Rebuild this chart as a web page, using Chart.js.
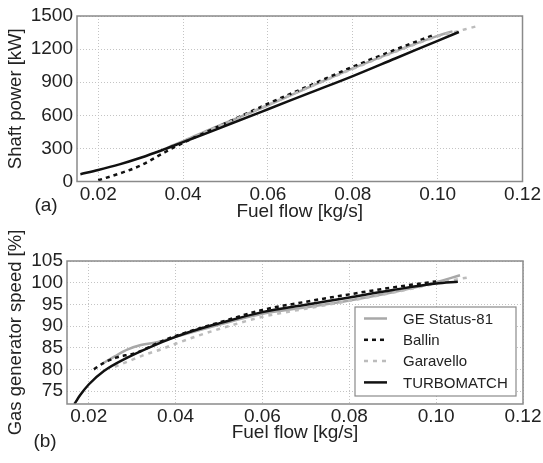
<!DOCTYPE html>
<html>
<head>
<meta charset="utf-8">
<script src="https://cdn.jsdelivr.net/npm/chart.js@4.4.1/dist/chart.umd.min.js"></script>
<style>
  body { margin: 0; background: #fff; }
  #wrap { position: relative; width: 543px; height: 463px; }
  canvas { position: absolute; left: 0; }
</style>
</head>
<body>
<div id="wrap">
  <canvas id="powerChart" width="543" height="230" style="top:0"></canvas>
  <canvas id="speedChart" width="543" height="253" style="top:210px"></canvas>
</div>
<script>
//--- Data ---//
const seriesNames = ['GE Status-81', 'Ballin', 'Garavello', 'TURBOMATCH'];
const xTicks = [0.02, 0.04, 0.06, 0.08, 0.10, 0.12];
const powerTicks = [0, 300, 600, 900, 1200, 1500];
const speedTicks = [75, 80, 85, 90, 95, 100, 105];

// (a) shaft power [kW] vs fuel flow [kg/s]
const powerGeX = [0.036, 0.04, 0.045, 0.05, 0.055, 0.06, 0.07, 0.08, 0.09, 0.10, 0.1035];
const powerGeY = [300, 365, 450, 530, 610, 690, 860, 1025, 1180, 1320, 1361];
const powerBallinX = [0.02, 0.025, 0.03, 0.035, 0.0375, 0.04, 0.05, 0.06, 0.07, 0.08, 0.09, 0.0995];
const powerBallinY = [11, 72, 145, 250, 302, 350, 528, 705, 872, 1040, 1195, 1335];
const powerGaravelloX = [0.037, 0.04, 0.05, 0.06, 0.07, 0.08, 0.09, 0.10, 0.105, 0.1092];
const powerGaravelloY = [320, 360, 525, 695, 860, 1020, 1175, 1315, 1365, 1407];
const powerTurboX = [0.0158, 0.02, 0.025, 0.03, 0.035, 0.04, 0.045, 0.05, 0.06, 0.07, 0.08, 0.09, 0.10, 0.105];
const powerTurboY = [66, 104, 155, 215, 283, 357, 430, 505, 655, 805, 955, 1115, 1275, 1355];

// (b) gas generator speed [%] vs fuel flow [kg/s]
const speedGeX = [0.0231, 0.026, 0.029, 0.032, 0.036, 0.04, 0.05, 0.06, 0.07, 0.08, 0.09, 0.10, 0.1055];
const speedGeY = [81.3, 83.0, 84.6, 85.6, 86.3, 87.5, 90.3, 92.8, 94.3, 95.9, 97.8, 100.1, 101.7];
const speedBallinX = [0.0212, 0.0235, 0.0263, 0.0309, 0.0366, 0.04, 0.05, 0.06, 0.07, 0.08, 0.09, 0.10];
const speedBallinY = [80, 81.5, 82.7, 83.8, 86.4, 87.7, 90.8, 93.7, 95.6, 97.3, 98.9, 100.3];
const speedGaravelloX = [0.026, 0.029, 0.033, 0.0366, 0.04, 0.045, 0.05, 0.06, 0.07, 0.08, 0.09, 0.10, 0.105, 0.108];
const speedGaravelloY = [80.6, 81.8, 83.4, 84.6, 85.9, 87.7, 89.3, 92.1, 94.0, 95.8, 97.7, 99.8, 100.8, 101.3];
const speedTurboX = [0.0167, 0.018, 0.02, 0.0235, 0.0289, 0.0343, 0.04, 0.0454, 0.05, 0.06, 0.07, 0.08, 0.09, 0.10, 0.105];
const speedTurboY = [72, 74, 76.5, 79.6, 82.7, 85.2, 87.5, 89.3, 90.6, 93.2, 94.9, 96.6, 98.3, 99.8, 100.2];
//------------//

const FONT = '"Liberation Sans", Arial, sans-serif';
const TEXT = '#222';
const styles = [
    { color: '#a8a8a8', dash: [], order: 3 },
    { color: '#111111', dash: [4, 4], order: 2 },
    { color: '#bcbcbc', dash: [4, 5], order: 1 },
    { color: '#111111', dash: [], order: 0 }
];

function toPoints(xs, ys) {
    return xs.map((x, i) => ({ x: x, y: ys[i] }));
}

function buildDatasets(pairs) {
    return pairs.map((p, i) => ({
        label: seriesNames[i],
        data: toPoints(p[0], p[1]),
        showLine: true,
        cubicInterpolationMode: 'monotone',
        borderColor: styles[i].color,
        borderDash: styles[i].dash,
        borderWidth: 2.5,
        pointRadius: 0,
        fill: false,
        order: styles[i].order
    }));
}

// frame, panel letter and in-plot legend
const framePlugin = {
    id: 'frame',
    afterDraw(chart, args, opts) {
        const ctx = chart.ctx;
        const a = chart.chartArea;
        ctx.save();
        ctx.setLineDash([]);
        ctx.strokeStyle = '#8a8a8a';
        ctx.lineWidth = 1.5;
        ctx.strokeRect(a.left, a.top, a.right - a.left, a.bottom - a.top);

        if (opts.legend) {
            const w = 161, h = 89;
            const bx = a.right - 7 - w, by = a.bottom - 8 - h;
            ctx.fillStyle = '#fff';
            ctx.fillRect(bx, by, w, h);
            ctx.strokeStyle = '#8a8a8a';
            ctx.lineWidth = 1.2;
            ctx.strokeRect(bx, by, w, h);
            ctx.font = '15px ' + FONT;
            ctx.textBaseline = 'middle';
            ctx.textAlign = 'left';
            chart.data.datasets.forEach((ds, i) => {
                const y = by + 11.5 + i * 21.3;
                ctx.strokeStyle = ds.borderColor;
                ctx.lineWidth = 2.5;
                ctx.setLineDash(ds.borderDash);
                ctx.beginPath();
                ctx.moveTo(bx + 9, y);
                ctx.lineTo(bx + 32, y);
                ctx.stroke();
                ctx.setLineDash([]);
                ctx.fillStyle = TEXT;
                ctx.fillText(ds.label, bx + 48, y + 1);
            });
        }

        ctx.fillStyle = TEXT;
        ctx.font = '19px ' + FONT;
        ctx.textAlign = 'center';
        ctx.textBaseline = 'middle';
        ctx.fillText(opts.panel, opts.panelX, opts.panelY);
        ctx.restore();
    }
};

function createChart(canvas, cfg) {
    return new Chart(canvas, {
        type: 'scatter',
        data: { datasets: buildDatasets(cfg.pairs) },
        options: {
            responsive: false,
            animation: false,
            devicePixelRatio: 1,
            layout: { padding: { top: cfg.top, right: 20, left: 0, bottom: 0 } },
            plugins: {
                legend: { display: false },
                tooltip: { enabled: false },
                frame: cfg.frame
            },
            scales: {
                x: {
                    type: 'linear',
                    min: 0.015,
                    max: 0.12,
                    afterBuildTicks: s => { s.ticks = xTicks.map(v => ({ value: v })); },
                    afterFit: s => { s.height = cfg.xHeight; },
                    grid: { color: '#c4c4c4', lineWidth: 1, drawTicks: false },
                    border: { display: false, dash: [1, 2] },
                    ticks: {
                        color: TEXT,
                        font: { family: FONT, size: 19 },
                        padding: cfg.xTickPad,
                        maxRotation: 0,
                        autoSkip: false,
                        callback: v => v.toFixed(2)
                    },
                    title: {
                        display: true,
                        text: 'Fuel flow [kg/s]',
                        color: TEXT,
                        font: { family: FONT, size: 19 },
                        padding: { top: 0, bottom: cfg.xTitlePad }
                    }
                },
                y: {
                    min: cfg.yMin,
                    max: cfg.yMax,
                    afterBuildTicks: s => { s.ticks = cfg.yTicks.map(v => ({ value: v })); },
                    afterFit: s => { s.width = cfg.yWidth; },
                    grid: { color: '#c4c4c4', lineWidth: 1, drawTicks: false },
                    border: { display: false, dash: [1, 2] },
                    ticks: {
                        color: TEXT,
                        font: { family: FONT, size: 19 },
                        padding: 4,
                        autoSkip: false,
                        callback: v => String(v)
                    },
                    title: {
                        display: true,
                        text: cfg.yTitle,
                        color: TEXT,
                        font: { family: FONT, size: 18.5 },
                        padding: { top: 5, bottom: 0 }
                    }
                }
            }
        },
        plugins: [framePlugin]
    });
}

createChart(document.getElementById('powerChart'), {
    pairs: [[powerGeX, powerGeY], [powerBallinX, powerBallinY], [powerGaravelloX, powerGaravelloY], [powerTurboX, powerTurboY]],
    top: 16, xHeight: 48.5, yWidth: 77, xTickPad: 2, xTitlePad: 6.6,
    yMin: 0, yMax: 1500, yTicks: powerTicks, yTitle: 'Shaft power [kW]',
    frame: { panel: '(a)', panelX: 46, panelY: 206, legend: false }
});

createChart(document.getElementById('speedChart'), {
    pairs: [[speedGeX, speedGeY], [speedBallinX, speedBallinY], [speedGaravelloX, speedGaravelloY], [speedTurboX, speedTurboY]],
    top: 51, xHeight: 59, yWidth: 67, xTickPad: 1, xTitlePad: 18.6,
    yMin: 72, yMax: 105, yTicks: speedTicks, yTitle: 'Gas generator speed [%]',
    frame: { panel: '(b)', panelX: 45, panelY: 232, legend: true }
});
</script>
</body>
</html>
